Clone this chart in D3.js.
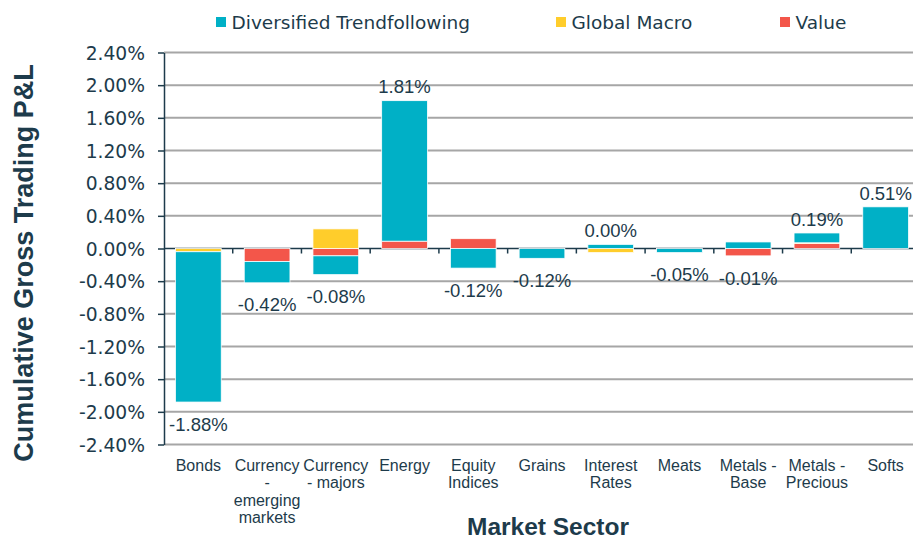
<!DOCTYPE html>
<meta charset="utf-8">
<style>
body { margin: 0; background: #fff; }
svg { display: block; font-family: "Liberation Sans", Arial, sans-serif; }
.grid line { stroke: #a6a6a6; stroke-width: 2; }
.yaxis path, .yaxis line, .xaxis line { stroke: #1d3b4b; stroke-width: 1.5; }
.yaxis text { font-family: "DejaVu Sans", sans-serif; font-size: 18.7px; fill: #1d3b4b; }
.cat { font-size: 16px; fill: #1d3b4b; }
.lbl { font-size: 18.5px; fill: #1d3b4b; }
.legend text { font-family: "DejaVu Sans", sans-serif; font-size: 18.5px; fill: #1d3b4b; }
.title { font-weight: bold; fill: #1d3b4b; }
</style>
<svg width="913" height="540"></svg>
<script src="https://d3js.org/d3.v7.min.js"></script>
<script>

// values in percent
var sectors = ["Bonds", "Currency - emerging markets", "Currency - majors", "Energy",
  "Equity Indices", "Grains", "Interest Rates", "Meats", "Metals - Base",
  "Metals - Precious", "Softs"];
var trendfollowing = [-1.84, -0.26, -0.23, 1.72, -0.24, -0.12, 0.05, -0.05, 0.08, 0.12, 0.51];
var globalMacro    = [-0.04, 0, 0.24, 0, 0, 0, -0.05, 0, 0, 0.01, 0];
var valueStyle     = [0, -0.16, -0.09, 0.09, 0.12, 0, 0, 0, -0.09, 0.06, 0];
var seriesNames = ["Diversified Trendfollowing", "Global Macro", "Value"];
var yTicks = [2.4, 2.0, 1.6, 1.2, 0.8, 0.4, 0, -0.4, -0.8, -1.2, -1.6, -2.0, -2.4];

var svg = d3.select("svg"),
    margin = {top: 52.5, right: -7, bottom: 95.5, left: 164},
    width = +svg.attr("width") - margin.left - margin.right,
    height = +svg.attr("height") - margin.top - margin.bottom,
    g = svg.append("g").attr("transform", "translate(" + margin.left + "," + margin.top + ")");

var data = sectors.map(function(s, i) {
  return {sector: s, trend: trendfollowing[i], macro: globalMacro[i], value: valueStyle[i]};
});

var keys = ["trend", "macro", "value"];
var z = d3.scaleOrdinal().domain(keys).range(["#00b0c6", "#ffcd2b", "#f3564a"]);

var x = d3.scaleBand()
    .domain(sectors)
    .range([0, width])
    .paddingInner(0.335)
    .paddingOuter(0.1675);

var y = d3.scaleLinear()
    .domain([-2.4, 2.4])
    .range([height, 0]);

function pct(v) {
  if (Math.abs(v) < 0.005) v = 0;
  return v.toFixed(2) + "%";
}

// gridlines
g.append("g")
    .attr("class", "grid")
  .selectAll("line")
  .data(yTicks.filter(function(d) { return d !== 0; }))
  .enter().append("line")
    .attr("x1", 0)
    .attr("x2", width)
    .attr("y1", function(d) { return y(d); })
    .attr("y2", function(d) { return y(d); });

// y axis
g.append("g")
    .attr("class", "yaxis")
    .call(d3.axisLeft(y).tickValues(yTicks).tickSize(6).tickSizeOuter(0).tickPadding(13).tickFormat(pct))
    .selectAll("text").attr("dy", "0.36em");

// x axis on zero line with ticks between the categories
var xa = g.append("g").attr("class", "xaxis");
xa.append("line")
    .attr("x1", 0).attr("x2", width)
    .attr("y1", y(0)).attr("y2", y(0));
xa.selectAll(".tk")
  .data(sectors.slice(1))
  .enter().append("line")
    .attr("class", "tk")
    .attr("x1", function(d) { return x(d) - x.step() * x.paddingInner() / 2; })
    .attr("x2", function(d) { return x(d) - x.step() * x.paddingInner() / 2; })
    .attr("y1", y(0))
    .attr("y2", y(0) + 5);

// stacked bars, value nearest zero, trendfollowing outermost
var stacked = d3.stack()
    .keys(["value", "macro", "trend"])
    .offset(d3.stackOffsetDiverging)(data);

g.append("g")
  .selectAll("g")
  .data(stacked)
  .enter().append("g")
    .attr("fill", function(d) { return z(d.key); })
  .selectAll("rect")
  .data(function(d) { return d.filter(function(s) { return s[1] !== s[0]; }); })
  .enter().append("rect")
    .attr("x", function(d) { return x(d.data.sector); })
    .attr("y", function(d) { return y(d[1]); })
    .attr("width", x.bandwidth())
    .attr("height", function(d) { return y(d[0]) - y(d[1]); })
    .attr("stroke", "#fff")
    .attr("stroke-width", 0.75);

// total labels
g.append("g")
  .selectAll("text")
  .data(data)
  .enter().append("text")
    .attr("class", "lbl")
    .attr("text-anchor", "middle")
    .attr("x", function(d) { return x(d.sector) + x.bandwidth() / 2; })
    .attr("y", function(d) {
      var total = d.trend + d.macro + d.value;
      var vals = [d.trend, d.macro, d.value];
      var up = d3.sum(vals.filter(function(v) { return v > 0; }));
      var down = d3.sum(vals.filter(function(v) { return v < 0; }));
      return total >= -0.001 ? y(up) - 14 : y(down) + 22;
    })
    .attr("dy", "0.36em")
    .text(function(d) { return pct(d.trend + d.macro + d.value); });

// category labels
g.append("g")
  .selectAll("text")
  .data(sectors)
  .enter().append("text")
    .attr("class", "cat")
    .attr("text-anchor", "middle")
    .attr("x", function(d) { return x(d) + x.bandwidth() / 2; })
    .attr("y", height + 26)
    .text(function(d) { return d; })
    .call(wrap, x.step() - 2);

function wrap(text, w) {
  text.each(function() {
    var t = d3.select(this),
        words = t.text().split(/\s+/),
        line = [],
        lineNo = 0,
        xx = t.attr("x"),
        yy = t.attr("y"),
        tspan = t.text(null).append("tspan").attr("x", xx).attr("y", yy);
    words.forEach(function(word) {
      line.push(word);
      tspan.text(line.join(" "));
      if (tspan.node().getComputedTextLength() > w && line.length > 1) {
        line.pop();
        tspan.text(line.join(" "));
        line = [word];
        tspan = t.append("tspan").attr("x", xx).attr("y", yy)
            .attr("dy", (++lineNo * 1.1) + "em").text(word);
      }
    });
  });
}

// legend
var legendX = [216, 556, 780];
var legend = svg.append("g")
    .attr("class", "legend")
  .selectAll("g")
  .data(keys)
  .enter().append("g")
    .attr("transform", function(d, i) { return "translate(" + legendX[i] + ",0)"; });

legend.append("rect")
    .attr("y", 17)
    .attr("width", 10)
    .attr("height", 10)
    .attr("fill", z);

legend.append("text")
    .attr("x", 15.5)
    .attr("y", 28.5)
    .text(function(d, i) { return seriesNames[i]; });

// axis titles
svg.append("text")
    .attr("class", "title")
    .attr("text-anchor", "middle")
    .attr("transform", "translate(33,263) rotate(-90)")
    .style("font-size", "27px")
    .text("Cumulative Gross Trading P&L");

svg.append("text")
    .attr("class", "title")
    .attr("text-anchor", "middle")
    .attr("x", 548)
    .attr("y", 535)
    .style("font-size", "24.5px")
    .text("Market Sector");

</script>
